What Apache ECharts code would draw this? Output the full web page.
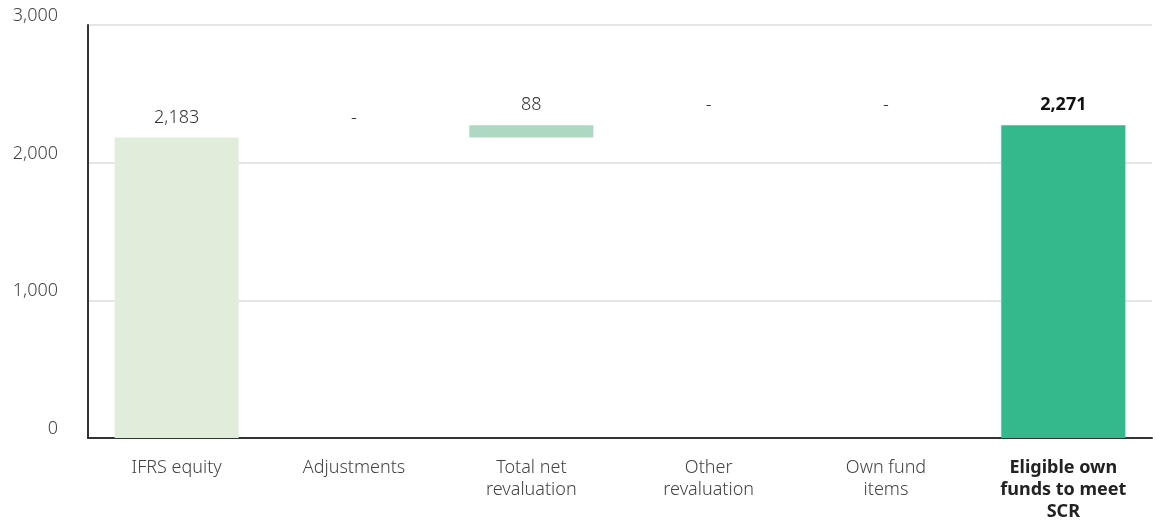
<!DOCTYPE html>
<html>
<head>
<meta charset="utf-8">
<script src="https://cdn.jsdelivr.net/npm/echarts@6/dist/echarts.min.js"></script>
<style>
  html, body { margin: 0; padding: 0; background: #fff; }
  #chart { width: 1156px; height: 530px; }
</style>
</head>
<body>
<div id="chart"></div>
<script>
// Own funds bridge: IFRS equity to eligible own funds (waterfall)
const categories = [
  'IFRS equity',
  'Adjustments',
  'Total net\nrevaluation',
  'Other\nrevaluation',
  'Own fund\nitems',
  'Eligible own\nfunds to meet\nSCR'
];
// Step values; the first and last entries are totals
const stepValues = [2183, 0, 88, 0, 0, 2271];
const isTotal = [true, false, false, false, false, true];
const barColors = ['#e1eddb', '#aed8c1', '#aed8c1', '#aed8c1', '#aed8c1', '#33b98b'];
const yTicks = [0, 1000, 2000, 3000];

// Invisible offsets so each step floats on the running total
const offsets = [];
let running = 0;
stepValues.forEach((v, i) => {
  if (isTotal[i]) {
    offsets.push(0);
    running = v;
  } else {
    offsets.push(running);
    running += v;
  }
});

const fmt = v => v === 0 ? '-' : v.toLocaleString('en-US');
const FONT = 'Noto Sans';
const FS = 18;
const lastIdx = categories.length - 1;

const chart = echarts.init(document.getElementById('chart'));
chart.setOption({
  animation: false,
  textStyle: { fontFamily: FONT },
  grid: { left: 88, right: 4, top: 25, bottom: 92, containLabel: false },
  xAxis: {
    type: 'category',
    data: categories,
    axisLine: { lineStyle: { color: '#333', width: 2 } },
    axisTick: { show: false },
    axisLabel: {
      interval: 0,
      margin: 19,
      fontSize: FS,
      lineHeight: 22,
      color: '#444',
      fontWeight: 300,
      fontFamily: FONT,
      formatter: (val, idx) => idx === lastIdx
        ? val.split('\n').map(s => '{b|' + s + '}').join('\n')
        : val,
      rich: { b: { fontWeight: 'bold', color: '#222', fontSize: FS, lineHeight: 22, fontFamily: FONT } }
    }
  },
  yAxis: {
    type: 'value',
    min: yTicks[0],
    max: yTicks[yTicks.length - 1],
    interval: 1000,
    axisLine: { show: true, lineStyle: { color: '#333', width: 2 } },
    axisTick: { show: false },
    splitLine: { lineStyle: { color: '#e6e6e6', width: 2 } },
    axisLabel: {
      margin: 30,
      fontSize: FS,
      color: '#444',
      fontWeight: 300,
      fontFamily: FONT,
      verticalAlign: 'bottom',
      formatter: v => v.toLocaleString('en-US')
    }
  },
  series: [
    {
      type: 'bar',
      stack: 'bridge',
      data: offsets,
      itemStyle: { color: 'transparent' },
      emphasis: { disabled: true },
      barWidth: '70%'
    },
    {
      type: 'bar',
      stack: 'bridge',
      barWidth: '70%',
      data: stepValues.map((v, i) => ({
        value: v,
        itemStyle: { color: barColors[i] },
        label: i === lastIdx ? { fontWeight: 'bold', color: '#111' } : undefined
      })),
      label: {
        show: true,
        position: 'top',
        distance: 11,
        fontSize: FS,
        color: '#333',
        fontWeight: 300,
        fontFamily: FONT,
        formatter: p => fmt(p.value)
      }
    }
  ]
});
</script>
</body>
</html>
